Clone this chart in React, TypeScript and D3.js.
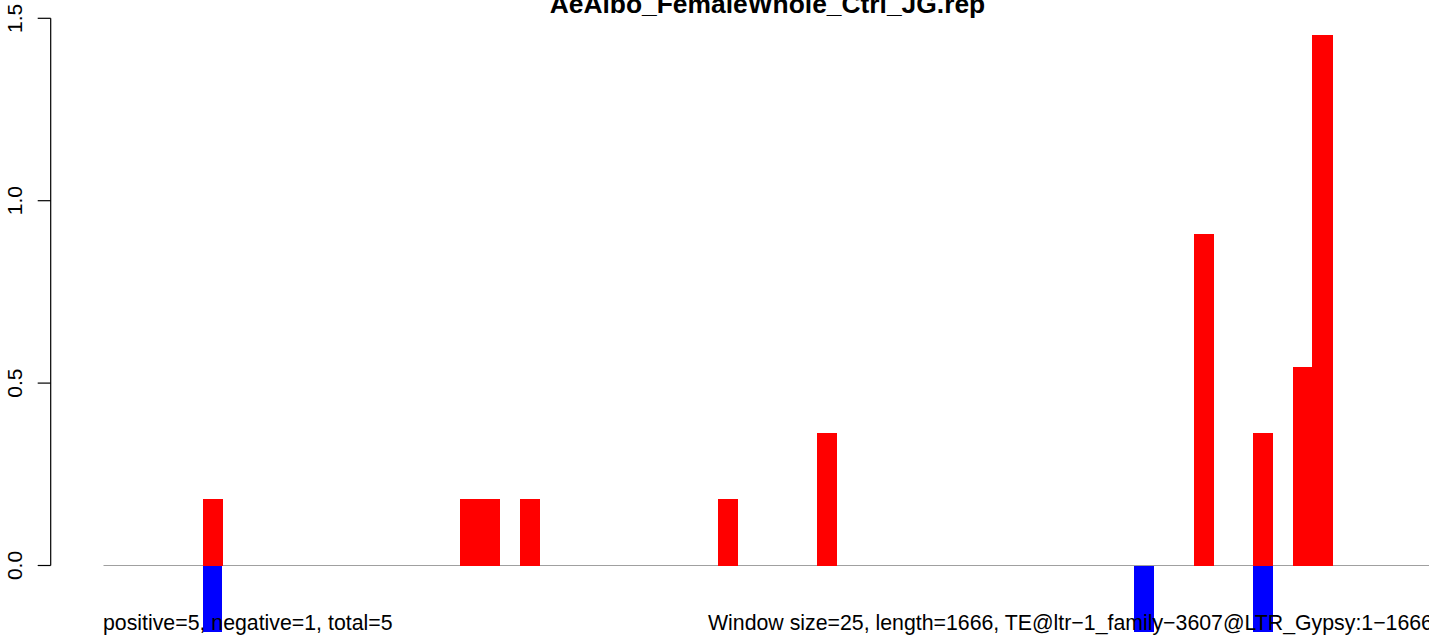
import React from "react";
import * as d3 from "d3";

const title = "AeAlbo_FemaleWhole_Ctrl_JG.rep";
const windowCount = 67;
const posWindows = [5, 18, 19, 21, 31, 36, 55, 58, 60, 61];
const posValues = [0.182, 0.182, 0.182, 0.182, 0.182, 0.364, 0.909, 0.364, 0.545, 1.455];
const negWindows = [5, 52, 58];
const negValues = [-0.182, -0.182, -0.182];
const yTicks = [0, 0.5, 1, 1.5];
const yTickLabels = ["0.0", "0.5", "1.0", "1.5"];
const leftNote = "positive=5, negative=1, total=5";
const rightNote = "Window size=25, length=1666, TE@ltr\u22121_family\u22123607@LTR_Gypsy:1\u22121666";

const W = 1429;
const H = 635;
const FONT = "'Liberation Sans', Arial, Helvetica, sans-serif";

export default function App() {
  const x = d3.scaleLinear().domain([0, windowCount]).range([103.5, 1431.4]);
  const y = d3.scaleLinear().domain([0, 1.5]).range([565.5, 18.3]);
  const bw = x(1) - x(0);
  const axisX = 50.7;

  return (
    <svg
      width={W}
      height={H}
      style={{ position: "absolute", left: 0, top: 0, display: "block", background: "#fff" }}
      fontFamily={FONT}
    >
      <line x1={x(0)} x2={x(windowCount)} y1={y(0)} y2={y(0)} stroke="#a0a0a0" strokeWidth={1} />
      {posWindows.map((w, i) => (
        <rect
          key={"p" + i}
          x={x(w)}
          width={bw + 0.3}
          y={y(posValues[i])}
          height={y(0) - y(posValues[i])}
          fill="#ff0000"
          shapeRendering="crispEdges"
        />
      ))}
      {negWindows.map((w, i) => (
        <rect
          key={"n" + i}
          x={x(w)}
          width={bw}
          y={y(0)}
          height={y(negValues[i]) - y(0)}
          fill="#0000ff"
          shapeRendering="crispEdges"
        />
      ))}
      <line x1={axisX} x2={axisX} y1={y(1.5)} y2={y(0)} stroke="#000" strokeWidth={1.2} />
      {yTicks.map((t, i) => (
        <g key={"t" + i}>
          <line x1={axisX - 13} x2={axisX} y1={y(t)} y2={y(t)} stroke="#000" strokeWidth={1.2} />
          <text
            transform={`translate(22,${y(t)}) rotate(-90)`}
            textAnchor="middle"
            fontSize={21}
            fill="#000"
          >
            {yTickLabels[i]}
          </text>
        </g>
      ))}
      <text x={(x(0) + x(windowCount)) / 2} y={12.5} textAnchor="middle" fontSize={26.4} fontWeight="bold" fill="#000">
        {title}
      </text>
      <text x={103} y={629.8} fontSize={21.3} fill="#000">{leftNote}</text>
      <text x={708} y={629.8} fontSize={21.3} fill="#000">{rightNote}</text>
    </svg>
  );
}
